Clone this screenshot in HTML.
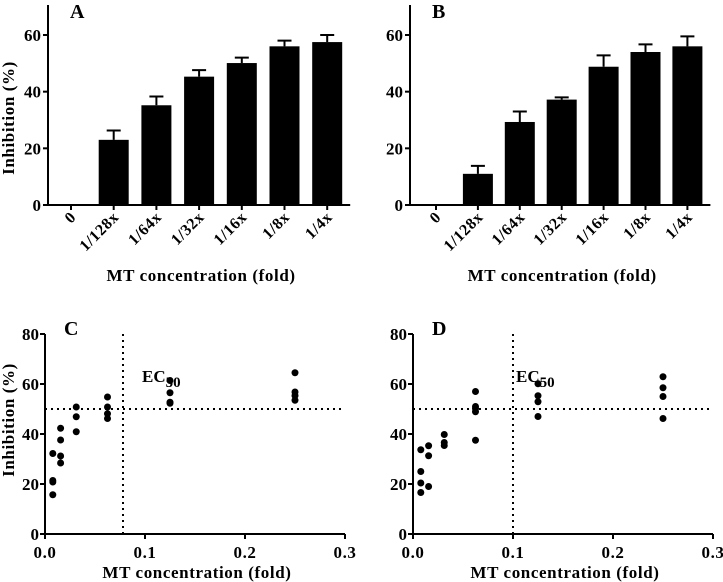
<!DOCTYPE html>
<html><head><meta charset="utf-8"><style>
html,body{margin:0;padding:0;background:#fff}
svg{display:block;font-family:"Liberation Serif",serif;font-weight:bold}
.t{letter-spacing:0.6px}
</style></head><body>
<svg id="fig" width="723" height="582" viewBox="0 0 723 582"></svg>
<script>
const barCategories = ["0","1/128x","1/64x","1/32x","1/16x","1/8x","1/4x"];
const barA = [0, 23, 35.2, 45.3, 50.1, 56, 57.5];
const errA = [0, 26.3, 38.3, 47.6, 52, 58, 60];
const barB = [0, 11, 29.3, 37.2, 48.8, 54, 56];
const errB = [0, 13.8, 33, 38, 52.8, 56.7, 59.5];
const barTicks = [0, 20, 40, 60];

const scatterX = [0.0078, 0.0156, 0.03125, 0.0625, 0.125, 0.25];
const scatterC = [[32.2,21.4,20.8,15.7],[42.3,37.6,31.2,28.4],[50.8,46.9,40.9],[54.8,50.8,48.1,46.2],[61.4,56.5,52.7,52.3],[64.5,56.8,55.3,53.5]];
const scatterD = [[33.7,25,20.4,16.6],[35.3,31.3,19],[39.8,36.6,35.4],[57,51,50.2,48.9,37.5],[60.1,55.3,52.9,47],[62.9,58.5,55,46.2]];
const scatterYTicks = [0, 20, 40, 60, 80];
const scatterXTicks = [0.0, 0.1, 0.2, 0.3];
const ec50C = 0.078;
const ec50D = 0.1;
const halfLine = 50;

const svg = document.getElementById('fig');
const NS = 'http://www.w3.org/2000/svg';
function mk(tag, attrs, parent){const e=document.createElementNS(NS,tag);for(const k in attrs)e.setAttribute(k,attrs[k]);(parent||svg).appendChild(e);return e;}
function txt(s, attrs, parent){const e=mk('text',attrs,parent);e.textContent=s;return e;}

function barPanel(name, ox, x0, dx, vals, errs, letter, showYTitle){
  const g=mk('g',{});
  
  
  const y=v=>205 - v*(170/60);
  const xc=i=>x0+i*dx;
  const ax=mk('path',{d:`M${ox} 5 V205 H${xc(6)+23}`,stroke:'#000','stroke-width':2,fill:'none'},g);
  
  
  barTicks.forEach(t=>{
    mk('line',{x1:ox-5,x2:ox,y1:y(t),y2:y(t),stroke:'#000','stroke-width':2},g);
    const l=txt(String(t),{x:ox-7,y:y(t)+6,'text-anchor':'end','font-size':17},g);
    
    
  });
  barCategories.forEach((c,i)=>{
    const cx=xc(i);
    mk('line',{x1:cx,x2:cx,y1:205,y2:210,stroke:'#000','stroke-width':2},g);
    const l=txt(c,{x:0,y:0,'text-anchor':'end','font-size':16,class:'t',transform:`translate(${cx+6},${218}) rotate(-45)`},g);
    
    
    if(vals[i]>0){
      const e=mk('path',{d:`M${cx} ${y(vals[i])} V${y(errs[i])} M${cx-7} ${y(errs[i])} H${cx+7}`,stroke:'#000','stroke-width':2,fill:'none'},g);
      
      
      const b=mk('rect',{x:cx-15,y:y(vals[i]),width:30,height:205-y(vals[i]),fill:'#000'},g);
      
      
    }
  });
  const xt=txt('MT concentration (fold)',{x:(ox+xc(6)+23)/2+2,y:281,'text-anchor':'middle','font-size':17,class:'t'},g);
  
  
  if(showYTitle){
    const yt=txt('Inhibition (%)',{x:0,y:0,'text-anchor':'middle','font-size':17,class:'t',transform:`translate(14,118) rotate(-90)`},g);
    
    
  }
  const pl=txt(letter,{x:ox+22,y:18,'font-size':20},g);
  
  
}

function scatterPanel(name, ox, vals, ec, letter, showYTitle){
  const g=mk('g',{});
  
  
  const y=v=>534 - v*(200/80);
  const x=v=>ox + v*(300/0.3);
  const ax=mk('path',{d:`M${ox} ${y(80)} V534 H${x(0.3)}`,stroke:'#000','stroke-width':2,fill:'none'},g);
  
  
  scatterYTicks.forEach(t=>{
    mk('line',{x1:ox-5,x2:ox,y1:y(t),y2:y(t),stroke:'#000','stroke-width':2},g);
    const l=txt(String(t),{x:ox-6,y:y(t)+6,'text-anchor':'end','font-size':17},g);
    
    
  });
  scatterXTicks.forEach(t=>{
    mk('line',{x1:x(t),x2:x(t),y1:534,y2:539,stroke:'#000','stroke-width':2},g);
    const l=txt(t.toFixed(1),{x:x(t),y:558,'text-anchor':'middle','font-size':17,class:'t'},g);
    
    
  });
  const h=mk('line',{x1:ox,x2:x(0.3),y1:y(halfLine),y2:y(halfLine),stroke:'#000','stroke-width':2,'stroke-dasharray':'2 4'},g);
  
  
  const v=mk('line',{x1:x(ec),x2:x(ec),y1:y(80),y2:534,stroke:'#000','stroke-width':2,'stroke-dasharray':'2 4'},g);
  
  
  scatterX.forEach((xv,i)=>{
    vals[i].forEach(val=>{
      const c=mk('circle',{cx:x(xv),cy:y(val),r:3.5,fill:'#000'},g);
      
      
    });
  });
  const ecl=txt('EC',{x:letter==='C'?ox+97:ox+103,y:382,'font-size':17},g);
  
  
  const ts=mk('tspan',{dy:5,'font-size':15},ecl);ts.textContent='50';
  const xt=txt('MT concentration (fold)',{x:x(0.15)+2,y:578,'text-anchor':'middle','font-size':17,class:'t'},g);
  
  
  if(showYTitle){
    const yt=txt('Inhibition (%)',{x:0,y:0,'text-anchor':'middle','font-size':17,class:'t',transform:`translate(14,420) rotate(-90)`},g);
    
    
  }
  const pl=txt(letter,{x:ox+19,y:335,'font-size':20},g);
  
  
}

barPanel('panel-a', 48, 71, 42.7, barA, errA, 'A', true);
barPanel('panel-b', 410, 436, 41.9, barB, errB, 'B', false);
scatterPanel('panel-c', 45, scatterC, ec50C, 'C', true);
scatterPanel('panel-d', 413, scatterD, ec50D, 'D', false);
</script>
</body></html>
